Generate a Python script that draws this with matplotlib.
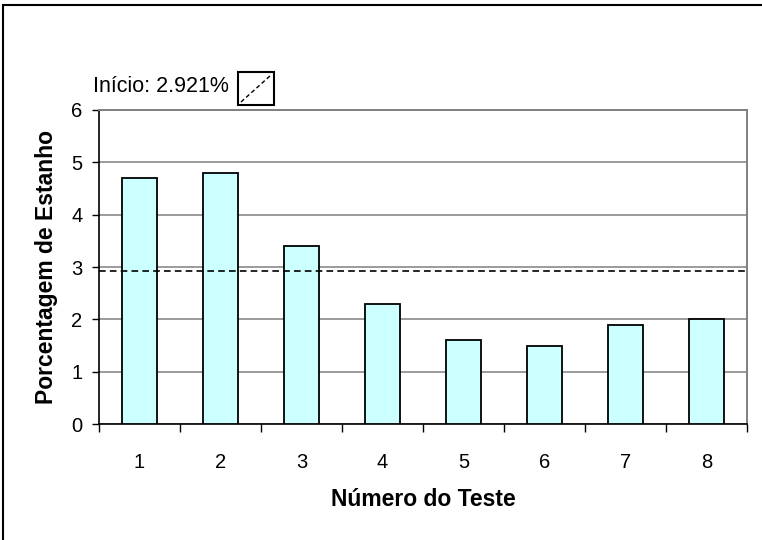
import matplotlib
matplotlib.use("Agg")
import matplotlib.pyplot as plt
from matplotlib.patches import Rectangle
from matplotlib.lines import Line2D

plt.rcParams['font.family'] = ['Liberation Sans', 'DejaVu Sans']

# dados dos testes
testes = ['1', '2', '3', '4', '5', '6', '7', '8']
estanho = [4.7, 4.8, 3.4, 2.3, 1.6, 1.5, 1.9, 2.0]
inicio = 2.921

fig = plt.figure(figsize=(7.62, 5.4), dpi=100)
ax = fig.add_axes([0.130, 0.2148, 0.8504, 0.5815])

x = list(range(1, len(testes) + 1))
ax.bar(x, estanho, width=0.43, color='#CCFFFF', edgecolor='black', linewidth=1.3, zorder=3)
ax.axhline(inicio, color='black', linestyle=(0, (4, 2.5)), linewidth=1.2, zorder=4)

ax.set_xlim(0.5, 8.5)
ax.set_ylim(0, 6)
ax.set_yticks(range(0, 7))
ax.yaxis.grid(True, color='#808080', linewidth=1.1, zorder=0)

# ticks do eixo x entre as categorias
ax.set_xticks([i + 0.5 for i in range(0, 9)], minor=False)
ax.set_xticklabels([])
ax.set_xticks(x, minor=True)
ax.set_xticklabels(testes, minor=True, fontsize=14.5)
ax.tick_params(axis='x', which='major', length=6, width=1, direction='out')
ax.tick_params(axis='x', which='minor', length=0, pad=21)
ax.tick_params(axis='y', length=5, width=1, direction='out', labelsize=14.5, pad=7)

for s in ['left', 'bottom']:
    ax.spines[s].set_color('black')
    ax.spines[s].set_linewidth(1.2)
for s in ['top', 'right']:
    ax.spines[s].set_color('#808080')
    ax.spines[s].set_linewidth(1.4)

ax.set_xlabel('Número do Teste', fontsize=16.5, fontweight='bold', va='center')
ax.set_ylabel('Porcentagem de Estanho', fontsize=16.5, fontweight='bold', va='center')
ax.xaxis.set_label_coords(0.5, -0.242)
ax.yaxis.set_label_coords(-0.0814, 0.5)

# legenda da linha de início
fig.text(93 / 762, 1 - 87 / 540, 'Início: 2.921%', fontsize=15.5, va='center', ha='left')
fig.patches.append(Rectangle((238 / 762, 1 - 105 / 540), 36 / 762, 33 / 540,
                             transform=fig.transFigure, facecolor='white',
                             edgecolor='black', linewidth=1.5))
fig.lines.append(Line2D([241 / 762, 271 / 762], [1 - 102 / 540, 1 - 75 / 540],
                        transform=fig.transFigure, color='black',
                        linestyle=(0, (3, 2)), linewidth=1.0))

# moldura externa
fig.patches.append(Rectangle((3 / 762, -0.1), 1.2, 1 - 5 / 540 + 0.1,
                             transform=fig.transFigure, fill=False,
                             edgecolor='black', linewidth=1.5))

fig.savefig('out.png', dpi=100)
